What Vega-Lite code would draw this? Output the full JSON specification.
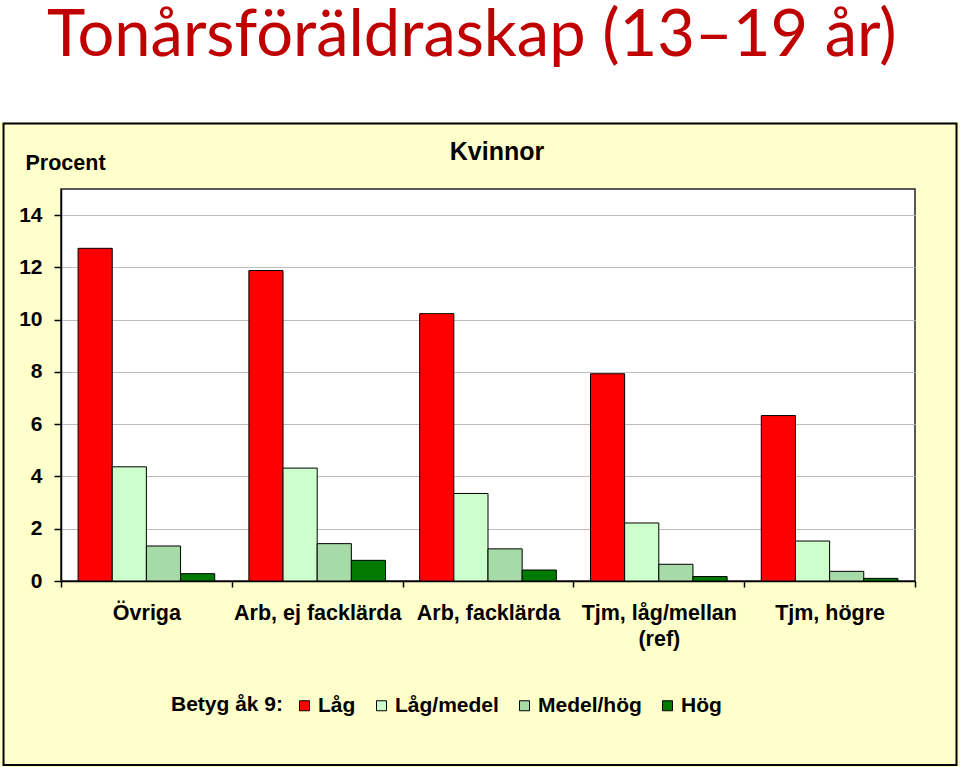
{
  "$schema": "https://vega.github.io/schema/vega-lite/v6.json",
  "autosize": "none",
  "width": 854,
  "height": 392,
  "padding": {"left": 61, "top": 189, "right": 45, "bottom": 186},
  "background": "#FFFFCC",
  "config": {
    "view": {"fill": "white", "stroke": "#222222", "strokeWidth": 1.5},
    "font": "Liberation Sans"
  },
  "resolve": {"scale": {"x": "independent"}, "axis": {"x": "independent"}},
  "layer": [
    {
      "data": {"values": [{}]},
      "mark": {"type": "rect", "fill": "white", "strokeWidth": 0},
      "encoding": {
        "x": {"datum": -0.1, "type": "quantitative", "scale": {"domain": [0, 1], "nice": false, "zero": false}, "axis": null},
        "x2": {"datum": 1.1},
        "y": {"datum": 17.56, "type": "quantitative", "scale": {"domain": [0, 15], "nice": false}},
        "y2": {"datum": 23.5}
      }
    },
    {
      "data": {"values": [{}]},
      "mark": {"type": "rect", "fillOpacity": 0, "stroke": "black", "strokeWidth": 2},
      "encoding": {
        "x": {"datum": -0.0673, "type": "quantitative", "scale": {"domain": [0, 1], "nice": false, "zero": false}, "axis": null},
        "x2": {"datum": 1.0486},
        "y": {"datum": -7.04, "type": "quantitative", "scale": {"domain": [0, 15], "nice": false}},
        "y2": {"datum": 17.51}
      }
    },
    {
      "data": {"values": [{"label": "Tonårsföräldraskap (13–19 år)"}]},
      "mark": {"type": "text", "font": "Lato", "fontSize": 65, "color": "#C00000", "align": "left", "baseline": "alphabetic"},
      "encoding": {
        "x": {"datum": -0.0164, "type": "quantitative", "scale": {"domain": [0, 1], "nice": false, "zero": false}, "axis": null},
        "y": {"datum": 20.1, "type": "quantitative", "scale": {"domain": [0, 15], "nice": false}},
        "text": {"field": "label"}
      }
    },
    {
      "data": {"values": [{"label": "Kvinnor"}]},
      "mark": {"type": "text", "font": "Liberation Sans", "fontWeight": "bold", "fontSize": 25, "color": "black", "align": "center", "baseline": "middle"},
      "encoding": {
        "x": {"datum": 0.5105, "type": "quantitative", "scale": {"domain": [0, 1], "nice": false, "zero": false}, "axis": null},
        "y": {"datum": 16.42, "type": "quantitative", "scale": {"domain": [0, 15], "nice": false}},
        "text": {"field": "label"}
      }
    },
    {
      "data": {
        "values": [
          {"grupp": "Övriga", "betyg": "Låg", "procent": 12.73},
          {"grupp": "Övriga", "betyg": "Låg/medel", "procent": 4.37},
          {"grupp": "Övriga", "betyg": "Medel/hög", "procent": 1.34},
          {"grupp": "Övriga", "betyg": "Hög", "procent": 0.28},
          {"grupp": "Arb, ej facklärda", "betyg": "Låg", "procent": 11.88},
          {"grupp": "Arb, ej facklärda", "betyg": "Låg/medel", "procent": 4.32},
          {"grupp": "Arb, ej facklärda", "betyg": "Medel/hög", "procent": 1.43},
          {"grupp": "Arb, ej facklärda", "betyg": "Hög", "procent": 0.79},
          {"grupp": "Arb, facklärda", "betyg": "Låg", "procent": 10.23},
          {"grupp": "Arb, facklärda", "betyg": "Låg/medel", "procent": 3.35},
          {"grupp": "Arb, facklärda", "betyg": "Medel/hög", "procent": 1.23},
          {"grupp": "Arb, facklärda", "betyg": "Hög", "procent": 0.42},
          {"grupp": "Tjm, låg/mellan (ref)", "betyg": "Låg", "procent": 7.93},
          {"grupp": "Tjm, låg/mellan (ref)", "betyg": "Låg/medel", "procent": 2.22},
          {"grupp": "Tjm, låg/mellan (ref)", "betyg": "Medel/hög", "procent": 0.64},
          {"grupp": "Tjm, låg/mellan (ref)", "betyg": "Hög", "procent": 0.17},
          {"grupp": "Tjm, högre", "betyg": "Låg", "procent": 6.33},
          {"grupp": "Tjm, högre", "betyg": "Låg/medel", "procent": 1.53},
          {"grupp": "Tjm, högre", "betyg": "Medel/hög", "procent": 0.37},
          {"grupp": "Tjm, högre", "betyg": "Hög", "procent": 0.10}
        ]
      },
      "mark": {"type": "bar", "stroke": "black", "strokeWidth": 1},
      "encoding": {
        "x": {
          "field": "grupp", "type": "nominal",
          "sort": ["Övriga", "Arb, ej facklärda", "Arb, facklärda", "Tjm, låg/mellan (ref)", "Tjm, högre"],
          "scale": {"paddingInner": 0, "paddingOuter": 0},
          "axis": {
            "title": null,
            "labelAngle": 0,
            "labelFont": "Liberation Sans",
            "labelFontWeight": "bold",
            "labelFontSize": 21.5,
            "labelColor": "black",
            "labelPadding": 15,
            "labelLineHeight": 26,
            "labelExpr": "datum.label == 'Tjm, låg/mellan (ref)' ? ['Tjm, låg/mellan', '(ref)'] : datum.label",
            "tickBand": "extent",
            "tickSize": 6,
            "tickColor": "black",
            "tickWidth": 1.5,
            "domainColor": "black",
            "domainWidth": 1.5,
            "grid": false
          }
        },
        "xOffset": {
          "field": "betyg", "type": "nominal",
          "sort": ["Låg", "Låg/medel", "Medel/hög", "Hög"],
          "scale": {"paddingInner": 0, "paddingOuter": 0.5}
        },
        "y": {
          "field": "procent", "type": "quantitative",
          "scale": {"domain": [0, 15], "nice": false},
          "axis": {
            "values": [0, 2, 4, 6, 8, 10, 12, 14],
            "title": "Procent",
            "titleAngle": 0,
            "titleX": -36,
            "titleY": -26,
            "titleAlign": "left",
            "titleBaseline": "middle",
            "titleFont": "Liberation Sans",
            "titleFontWeight": "bold",
            "titleFontSize": 21.5,
            "titleColor": "black",
            "labelFont": "Liberation Sans",
            "labelFontWeight": "bold",
            "labelFontSize": 21,
            "labelColor": "black",
            "labelPadding": 12,
            "tickSize": 7,
            "tickColor": "black",
            "tickWidth": 1.5,
            "domainColor": "black",
            "domainWidth": 1.5,
            "grid": true,
            "gridColor": "#BEBEBE",
            "gridWidth": 1.2
          }
        },
        "color": {
          "field": "betyg", "type": "nominal",
          "sort": ["Låg", "Låg/medel", "Medel/hög", "Hög"],
          "scale": {"domain": ["Låg", "Låg/medel", "Medel/hög", "Hög"], "range": ["#FF0000", "#CCFFCC", "#A6DAA6", "#007A00"]},
          "legend": {
            "title": "Betyg åk 9:",
            "orient": "none",
            "direction": "horizontal",
            "legendX": 110,
            "legendY": 506,
            "titleOrient": "left",
            "titleFont": "Liberation Sans",
            "titleFontWeight": "bold",
            "titleFontSize": 21,
            "titleColor": "black",
            "titlePadding": 10,
            "labelFont": "Liberation Sans",
            "labelFontWeight": "bold",
            "labelFontSize": 21,
            "labelColor": "black",
            "labelOffset": 3,
            "columnPadding": 15,
            "symbolType": "square",
            "symbolSize": 100,
            "symbolStrokeColor": "black",
            "symbolStrokeWidth": 1
          }
        }
      }
    }
  ]
}
